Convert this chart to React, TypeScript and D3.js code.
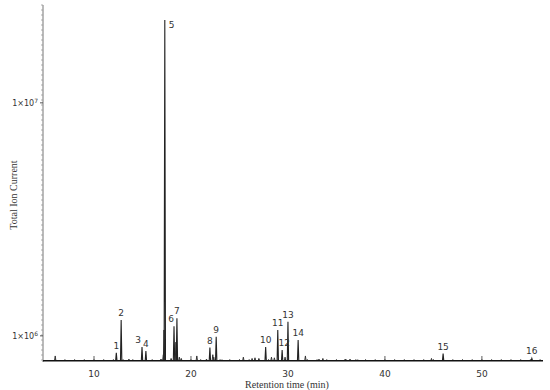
import React from "react";
import * as d3 from "d3";

// labelled peaks: retention time (min), total ion current
const peakIds = ["1", "2", "3", "4", "5", "6", "7", "8", "9", "10", "11", "12", "13", "14", "15", "16"];
const peakTimes = [12.3, 12.8, 14.95, 15.35, 17.3, 18.25, 18.55, 21.95, 22.6, 27.7, 28.95, 29.4, 30.0, 31.05, 46.0, 55.15];
const peakHeights = [8.45e5, 1.17e6, 8.95e5, 8.6e5, 2.27e7, 1.1e6, 1.19e6, 8.9e5, 9.9e5, 8.95e5, 1.06e6, 8.7e5, 1.15e6, 9.6e5, 8.4e5, 8.0e5];

// small unlabelled peaks
const minorTimes = [6.0, 13.6, 16.9, 17.15, 17.22, 17.95, 18.45, 18.8, 19.0, 20.6, 21.6, 22.25, 22.35, 23.2, 25.4, 26.3, 26.6, 27.0, 28.3, 28.6, 29.7, 31.8, 33.2, 33.6, 35.9, 36.4, 37.2, 44.8];
const minorHeights = [8.2e5, 7.95e5, 7.95e5, 8.3e5, 1.06e6, 8.0e5, 9.4e5, 8.1e5, 8.0e5, 8.2e5, 7.95e5, 8.3e5, 8.1e5, 7.9e5, 8.1e5, 8.0e5, 8.05e5, 8.0e5, 8.1e5, 8.05e5, 8.1e5, 8.2e5, 7.95e5, 8.0e5, 7.95e5, 7.95e5, 7.9e5, 8.0e5];

const xTicks = [10, 20, 30, 40, 50];
const yTicks = [1e6, 1e7];
const yTickExp = ["6", "7"];
const baseLevel = 7.82e5;

// label nudges (px)
const labelDx: Record<string, number> = { "3": -4, "5": 4, "6": -3, "12": 2 };

const W = 550;
const H = 390;

export default function App() {
  const x = d3.scaleLinear().domain([4.74, 56.3]).range([43, 543]);
  const y = d3.scaleLog().domain([7.8e5, 2.63e7]).range([361, 5]);
  const line = d3
    .line<[number, number]>()
    .x((d) => x(d[0]))
    .y((d) => y(d[1]));
  const hw = 0.07;
  const peakPath = (t: number, h: number) =>
    line([
      [t - hw, baseLevel],
      [t, h],
      [t + hw, baseLevel],
    ]) as string;

  const minorX = d3.range(6, 57, 1);
  const axisDots = d3.range(5, 361, 5);
  const font = "'DejaVu Sans', Verdana, sans-serif";
  const serif = "'Liberation Serif', 'Times New Roman', serif";

  return (
    <svg width={W} height={H} style={{ position: "absolute", left: 0, top: 0 }}>
      <rect width={W} height={H} fill="#fff" />
      {/* y axis */}
      <line x1={43} x2={43} y1={5} y2={362} stroke="#777" strokeWidth={1} />
      {axisDots.map((d) => (
        <line key={"yd" + d} x1={41} x2={43} y1={d} y2={d} stroke="#999" strokeWidth={0.8} />
      ))}
      {yTicks.map((v, i) => (
        <g key={"yt" + v}>
          <line x1={40} x2={43} y1={y(v)} y2={y(v)} stroke="#555" />
          <text x={38} y={y(v) + 3} fontSize={8} fontFamily={font} fill="#333" textAnchor="end">
            1×10
            <tspan fontSize={6} dy={-3}>
              {yTickExp[i]}
            </tspan>
          </text>
        </g>
      ))}
      {/* x axis */}
      {minorX.map((t) => (
        <line key={"xm" + t} x1={x(t)} x2={x(t)} y1={359} y2={361} stroke="#444" strokeWidth={0.8} />
      ))}
      {xTicks.map((t) => (
        <g key={"xt" + t}>
          <line x1={x(t)} x2={x(t)} y1={356} y2={361} stroke="#333" strokeWidth={0.8} />
          <text x={x(t)} y={377} fontSize={9} fontFamily={font} fill="#333" textAnchor="middle">
            {t}
          </text>
        </g>
      ))}
      {/* peaks */}
      {minorTimes.map((t, i) => (
        <path key={"mp" + i} d={peakPath(t, minorHeights[i])} fill="none" stroke="#333" strokeWidth={1} />
      ))}
      {peakTimes.map((t, i) => (
        <path key={"p" + i} d={peakPath(t, peakHeights[i])} fill="none" stroke="#222" strokeWidth={1.1} />
      ))}
      <line x1={43} x2={543} y1={y(baseLevel)} y2={y(baseLevel)} stroke="#111" strokeWidth={1.6} />
      {peakIds.map((id, i) => (
        <text
          key={"pl" + id}
          x={x(peakTimes[i]) + (labelDx[id] ?? 0)}
          y={y(peakHeights[i]) - 4 + (id === "5" ? 12 : 0)}
          fontSize={9}
          fontFamily={font}
          fill="#333"
          textAnchor={id === "5" ? "start" : "middle"}
        >
          {id}
        </text>
      ))}
      {/* axis titles */}
      <text x={287} y={388} fontSize={10} fontFamily={serif} fill="#333" textAnchor="middle">
        Retention time (min)
      </text>
      <text
        transform="translate(17,195) rotate(-90)"
        fontSize={10}
        fontFamily={serif}
        fill="#333"
        textAnchor="middle"
      >
        Total Ion Current
      </text>
    </svg>
  );
}
